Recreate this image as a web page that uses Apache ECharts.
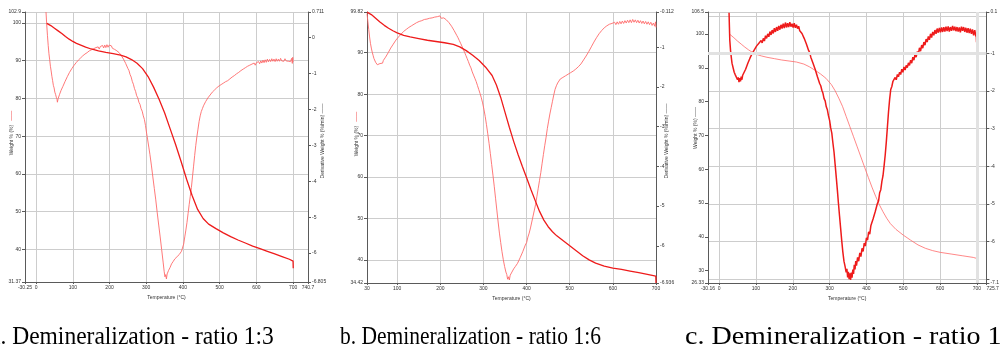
<!DOCTYPE html>
<html>
<head>
<meta charset="utf-8">
<script src="https://cdn.jsdelivr.net/npm/echarts@6/dist/echarts.min.js"></script>
<style>
html, body { margin: 0; padding: 0; background: #fff; }
#chart { width: 1002px; height: 351px; }
</style>
</head>
<body>
<div id="chart"></div>
<script>
// ---------------------------------------------------------------------------
// data read off the three TGA / DTG plots  [temperature °C, value]
// ---------------------------------------------------------------------------
const captions = [
  'a. Demineralization - ratio 1:3',
  'b. Demineralization - ratio 1:6',
  'c. Demineralization - ratio 1:9'
];

// axis extents as printed on the plots
const xRangeA = [-30.25, 740.7], wRangeA = [31.37, 102.9], dRangeA = [-6.805, 0.711];
const xRangeB = [30, 700],       wRangeB = [34.42, 99.82], dRangeB = [-6.936, -0.112];
const xRangeC = [-30.16, 725.7], wRangeC = [26.33, 106.5], dRangeC = [-7.1, 0.1];

// a. weight %
const tgaA = [[29,99.9],[40,99.3],[50,98.6],[60,97.9],[70,97.2],[80,96.4],[90,95.7],[100,95.1],[110,94.6],[120,94.2],[135,93.6],[150,93.1],[170,92.6],[190,92.2],[210,91.9],[230,91.5],[245,91.0],[260,90.3],[275,89.3],[290,87.9],[305,85.8],[320,83.0],[335,79.8],[350,76.2],[365,72.0],[380,67.8],[395,63.3],[410,58.6],[425,54.3],[440,50.6],[455,48.2],[470,46.7],[490,45.5],[510,44.4],[530,43.4],[550,42.5],[570,41.7],[590,40.9],[610,40.2],[630,39.5],[650,38.8],[670,38.1],[690,37.4],[700,36.9],[700.5,35.0]];
// a. derivative weight %/min
const dtgA = [[27,0.71],[29,0.35],[31,0.05],[33,-0.22],[35,-0.45],[37,-0.62],[39,-0.80],[41,-0.93],[43,-1.08],[45,-1.20],[47,-1.33],[49,-1.40],[51,-1.52],[53,-1.58],[55,-1.66],[57,-1.72],[58,-1.80],[60,-1.70],[62,-1.66],[64,-1.58],[66,-1.55],[68,-1.47],[70,-1.44],[73,-1.36],[76,-1.31],[79,-1.22],[82,-1.19],[85,-1.09],[88,-1.05],[91,-0.97],[94,-0.95],[97,-0.87],[100,-0.85],[103,-0.78],[106,-0.77],[109,-0.70],[112,-0.69],[115,-0.63],[118,-0.64],[121,-0.57],[124,-0.58],[127,-0.51],[130,-0.53],[133,-0.46],[136,-0.49],[139,-0.42],[142,-0.45],[145,-0.37],[148,-0.41],[151,-0.34],[154,-0.38],[157,-0.31],[160,-0.36],[163,-0.28],[166,-0.33],[169,-0.26],[172,-0.32],[175,-0.25],[178,-0.30],[181,-0.22],[184,-0.29],[187,-0.21],[190,-0.28],[193,-0.20],[196,-0.27],[199,-0.21],[202,-0.26],[205,-0.23],[208,-0.30],[211,-0.26],[214,-0.33],[217,-0.30],[220,-0.37],[223,-0.36],[226,-0.42],[229,-0.43],[232,-0.50],[235,-0.52],[238,-0.60],[241,-0.62],[244,-0.72],[247,-0.76],[250,-0.86],[253,-0.92],[256,-1.03],[259,-1.10],[262,-1.22],[265,-1.30],[268,-1.42],[271,-1.50],[274,-1.62],[277,-1.68],[280,-1.80],[283,-1.86],[286,-1.98],[289,-2.05],[292,-2.18],[295,-2.28],[298,-2.45],[301,-2.66],[304,-2.85],[307,-3.05],[310,-3.25],[314,-3.55],[318,-3.88],[322,-4.20],[326,-4.52],[330,-4.88],[334,-5.22],[338,-5.55],[342,-5.90],[346,-6.25],[349,-6.52],[351,-6.66],[353,-6.60],[355,-6.72],[357,-6.58],[359,-6.62],[361,-6.48],[363,-6.52],[365,-6.40],[367,-6.44],[369,-6.30],[371,-6.34],[373,-6.24],[375,-6.28],[378,-6.16],[381,-6.20],[384,-6.10],[387,-6.15],[390,-6.04],[393,-6.08],[396,-5.95],[399,-5.92],[402,-5.75],[405,-5.55],[408,-5.36],[411,-5.15],[414,-4.90],[417,-4.65],[420,-4.42],[423,-4.18],[426,-3.88],[429,-3.58],[432,-3.28],[435,-3.00],[438,-2.76],[441,-2.55],[444,-2.34],[447,-2.18],[450,-2.06],[453,-1.98],[456,-1.90],[459,-1.86],[462,-1.78],[465,-1.76],[468,-1.68],[471,-1.66],[474,-1.60],[477,-1.63],[480,-1.52],[483,-1.55],[486,-1.46],[489,-1.50],[492,-1.40],[495,-1.44],[498,-1.35],[501,-1.39],[504,-1.31],[507,-1.34],[510,-1.27],[513,-1.32],[516,-1.23],[519,-1.28],[522,-1.20],[525,-1.24],[528,-1.15],[531,-1.19],[534,-1.10],[537,-1.15],[540,-1.06],[543,-1.10],[546,-1.01],[549,-1.05],[552,-0.97],[555,-1.00],[558,-0.92],[561,-0.96],[564,-0.88],[567,-0.92],[570,-0.84],[573,-0.89],[576,-0.80],[579,-0.85],[582,-0.77],[585,-0.82],[588,-0.74],[591,-0.79],[594,-0.71],[597,-0.77],[600,-0.70],[603,-0.75],[606,-0.67],[609,-0.73],[612,-0.65],[615,-0.71],[618,-0.63],[621,-0.70],[624,-0.62],[627,-0.69],[630,-0.60],[633,-0.68],[636,-0.61],[639,-0.67],[642,-0.59],[645,-0.66],[648,-0.60],[651,-0.67],[654,-0.59],[657,-0.66],[660,-0.60],[663,-0.66],[666,-0.58],[669,-0.65],[672,-0.60],[675,-0.66],[678,-0.59],[681,-0.65],[684,-0.60],[687,-0.66],[690,-0.61],[693,-0.67],[696,-0.58],[698,-0.72],[699,-0.55],[700,-0.68]];

// b. weight %
const tgaB = [[30,99.8],[40,99.2],[50,98.3],[60,97.4],[70,96.6],[80,95.9],[90,95.3],[100,94.8],[115,94.2],[130,93.8],[150,93.4],[170,93.0],[190,92.7],[210,92.4],[230,92.0],[245,91.4],[260,90.5],[275,89.4],[290,88.1],[305,86.5],[320,84.5],[330,82.2],[340,79.2],[350,75.6],[360,72.0],[370,68.6],[380,65.5],[390,62.6],[400,59.8],[410,57.0],[420,54.3],[430,51.7],[440,49.6],[450,48.0],[460,46.8],[470,45.8],[485,44.6],[500,43.4],[515,42.2],[530,41.0],[545,40.0],[560,39.2],[580,38.5],[600,38.0],[620,37.7],[640,37.3],[660,36.9],[680,36.5],[699.5,36.1],[700,34.42]];
// b. derivative weight %/min
const dtgB = [[30,-0.15],[32,-0.35],[34,-0.55],[36,-0.74],[38,-0.90],[40,-1.02],[42,-1.12],[44,-1.20],[46,-1.28],[48,-1.33],[50,-1.38],[52,-1.40],[54,-1.44],[56,-1.40],[58,-1.45],[60,-1.41],[62,-1.44],[64,-1.38],[66,-1.40],[68,-1.33],[70,-1.32],[73,-1.25],[76,-1.22],[79,-1.14],[82,-1.10],[85,-1.02],[88,-1.00],[91,-0.92],[94,-0.90],[97,-0.82],[100,-0.81],[103,-0.74],[106,-0.73],[109,-0.67],[112,-0.67],[115,-0.60],[118,-0.62],[121,-0.55],[124,-0.57],[127,-0.50],[130,-0.53],[133,-0.46],[136,-0.49],[139,-0.42],[142,-0.45],[145,-0.38],[148,-0.42],[151,-0.35],[154,-0.39],[157,-0.33],[160,-0.37],[163,-0.30],[166,-0.35],[169,-0.29],[172,-0.33],[175,-0.27],[178,-0.32],[181,-0.26],[184,-0.30],[187,-0.24],[190,-0.29],[193,-0.23],[196,-0.28],[199,-0.21],[202,-0.27],[205,-0.22],[208,-0.26],[211,-0.25],[214,-0.31],[217,-0.32],[220,-0.38],[223,-0.40],[226,-0.47],[229,-0.52],[232,-0.58],[235,-0.63],[238,-0.70],[241,-0.76],[244,-0.83],[247,-0.90],[250,-0.97],[253,-1.05],[256,-1.12],[259,-1.20],[262,-1.28],[265,-1.36],[268,-1.45],[271,-1.52],[274,-1.62],[277,-1.70],[280,-1.78],[283,-1.86],[286,-1.96],[289,-2.06],[292,-2.16],[295,-2.27],[298,-2.40],[301,-2.56],[304,-2.74],[307,-2.95],[310,-3.18],[313,-3.42],[316,-3.68],[319,-3.95],[322,-4.22],[325,-4.50],[328,-4.80],[331,-5.10],[334,-5.40],[337,-5.68],[340,-5.92],[343,-6.15],[346,-6.35],[349,-6.52],[352,-6.66],[354,-6.72],[356,-6.84],[358,-6.78],[360,-6.86],[362,-6.74],[364,-6.78],[366,-6.66],[368,-6.70],[370,-6.58],[372,-6.62],[374,-6.52],[376,-6.55],[379,-6.44],[382,-6.42],[385,-6.30],[388,-6.28],[391,-6.15],[394,-6.10],[397,-5.98],[400,-5.92],[403,-5.78],[406,-5.68],[409,-5.55],[412,-5.40],[415,-5.25],[418,-5.10],[421,-4.95],[424,-4.75],[427,-4.55],[430,-4.35],[433,-4.15],[436,-3.92],[439,-3.70],[442,-3.48],[445,-3.28],[448,-3.05],[451,-2.86],[454,-2.68],[457,-2.52],[460,-2.36],[463,-2.20],[466,-2.06],[469,-1.97],[472,-1.90],[475,-1.86],[478,-1.80],[481,-1.82],[484,-1.76],[487,-1.78],[490,-1.72],[493,-1.75],[496,-1.68],[499,-1.71],[502,-1.64],[505,-1.67],[508,-1.60],[511,-1.62],[514,-1.55],[517,-1.57],[520,-1.49],[523,-1.50],[526,-1.42],[529,-1.41],[532,-1.32],[535,-1.31],[538,-1.22],[541,-1.20],[544,-1.11],[547,-1.08],[550,-0.99],[553,-0.96],[556,-0.87],[559,-0.85],[562,-0.76],[565,-0.75],[568,-0.66],[571,-0.68],[574,-0.58],[577,-0.61],[580,-0.51],[583,-0.55],[586,-0.46],[589,-0.51],[592,-0.42],[595,-0.47],[598,-0.40],[601,-0.45],[604,-0.37],[607,-0.43],[610,-0.36],[613,-0.42],[616,-0.35],[619,-0.41],[622,-0.34],[625,-0.40],[628,-0.33],[631,-0.39],[634,-0.32],[637,-0.38],[640,-0.31],[643,-0.38],[646,-0.30],[649,-0.37],[652,-0.31],[655,-0.38],[658,-0.32],[661,-0.39],[664,-0.33],[667,-0.40],[670,-0.34],[673,-0.41],[676,-0.35],[679,-0.42],[682,-0.36],[685,-0.43],[688,-0.37],[691,-0.45],[694,-0.39],[697,-0.47],[699,-0.36],[700,-0.50]];

// c. weight %
const tgaC = [[28,100.0],[40,98.9],[50,97.9],[60,97.0],[70,96.1],[80,95.3],[90,94.6],[100,94.0],[115,93.5],[130,93.1],[150,92.7],[170,92.3],[190,92.0],[210,91.7],[230,91.1],[245,90.3],[260,89.3],[275,88.2],[290,86.9],[305,85.0],[315,83.2],[325,81.0],[335,78.6],[345,75.6],[355,72.6],[365,69.6],[375,66.6],[385,63.6],[395,60.6],[405,57.6],[415,54.7],[425,52.0],[435,49.5],[445,47.4],[455,45.5],[465,43.9],[480,42.2],[500,40.5],[520,39.0],[540,37.6],[560,36.6],[580,35.9],[600,35.4],[630,34.9],[660,34.4],[690,33.9],[699.5,33.6],[700,33.0]];
// c. derivative weight %/min
const dtgC = [[27,0.08],[28,-0.30],[29,-0.65],[31,-0.92],[33,-1.10],[35,-1.26],[38,-1.38],[41,-1.50],[44,-1.57],[47,-1.62],[50,-1.70],[52,-1.64],[54,-1.76],[56,-1.66],[58,-1.74],[60,-1.62],[62,-1.70],[64,-1.58],[66,-1.62],[68,-1.50],[70,-1.52],[72,-1.42],[75,-1.38],[78,-1.26],[81,-1.24],[84,-1.12],[87,-1.12],[90,-1.00],[93,-1.02],[96,-0.90],[99,-0.93],[102,-0.80],[105,-0.85],[108,-0.73],[111,-0.78],[114,-0.66],[117,-0.72],[120,-0.60],[123,-0.67],[126,-0.53],[129,-0.60],[132,-0.48],[135,-0.56],[138,-0.42],[141,-0.51],[144,-0.38],[147,-0.47],[150,-0.33],[153,-0.43],[156,-0.30],[159,-0.40],[162,-0.27],[165,-0.37],[168,-0.24],[171,-0.34],[174,-0.21],[177,-0.33],[180,-0.18],[183,-0.31],[186,-0.20],[189,-0.30],[192,-0.17],[195,-0.29],[198,-0.21],[201,-0.31],[204,-0.20],[207,-0.32],[210,-0.24],[213,-0.34],[216,-0.28],[219,-0.40],[222,-0.36],[225,-0.47],[228,-0.48],[231,-0.60],[234,-0.62],[237,-0.75],[240,-0.80],[243,-0.92],[246,-0.98],[249,-1.10],[252,-1.14],[255,-1.26],[258,-1.30],[261,-1.43],[264,-1.47],[267,-1.62],[270,-1.66],[273,-1.80],[276,-1.86],[279,-1.98],[282,-2.06],[285,-2.20],[288,-2.26],[291,-2.42],[294,-2.50],[297,-2.66],[300,-2.78],[303,-2.98],[306,-3.12],[309,-3.38],[312,-3.62],[315,-3.95],[318,-4.28],[321,-4.62],[324,-4.98],[327,-5.32],[330,-5.65],[333,-5.98],[336,-6.28],[339,-6.52],[342,-6.66],[345,-6.82],[347,-6.72],[349,-6.95],[351,-6.80],[353,-7.00],[355,-6.84],[357,-7.02],[359,-6.82],[361,-6.96],[363,-6.74],[365,-6.86],[367,-6.62],[369,-6.74],[371,-6.52],[373,-6.64],[376,-6.42],[379,-6.52],[382,-6.30],[385,-6.40],[388,-6.18],[391,-6.26],[394,-6.04],[397,-6.12],[400,-5.90],[403,-5.96],[406,-5.74],[409,-5.80],[412,-5.58],[415,-5.62],[418,-5.40],[421,-5.42],[424,-5.20],[427,-5.20],[430,-4.98],[433,-4.92],[436,-4.70],[439,-4.62],[442,-4.40],[445,-4.25],[448,-3.98],[451,-3.70],[454,-3.35],[457,-2.95],[460,-2.55],[463,-2.22],[466,-1.96],[469,-1.88],[472,-1.74],[475,-1.78],[478,-1.64],[481,-1.70],[484,-1.56],[487,-1.62],[490,-1.50],[493,-1.56],[496,-1.42],[499,-1.50],[502,-1.36],[505,-1.44],[508,-1.32],[511,-1.38],[514,-1.25],[517,-1.32],[520,-1.18],[523,-1.26],[526,-1.10],[529,-1.18],[532,-1.02],[535,-1.10],[538,-0.95],[541,-1.02],[544,-0.85],[547,-0.94],[550,-0.78],[553,-0.86],[556,-0.70],[559,-0.78],[562,-0.62],[565,-0.70],[568,-0.55],[571,-0.64],[574,-0.48],[577,-0.58],[580,-0.43],[583,-0.52],[586,-0.38],[589,-0.48],[592,-0.34],[595,-0.45],[598,-0.32],[601,-0.44],[604,-0.31],[607,-0.43],[610,-0.30],[613,-0.42],[616,-0.29],[619,-0.41],[622,-0.28],[625,-0.42],[628,-0.30],[631,-0.40],[634,-0.27],[637,-0.39],[640,-0.29],[643,-0.41],[646,-0.30],[649,-0.42],[652,-0.31],[655,-0.44],[658,-0.29],[661,-0.40],[664,-0.30],[667,-0.43],[670,-0.32],[673,-0.45],[676,-0.33],[679,-0.46],[682,-0.34],[685,-0.48],[688,-0.36],[691,-0.52],[694,-0.38],[697,-0.55],[698,-0.46],[699,-0.70],[700,0.08]];

// ---------------------------------------------------------------------------
// layout helpers
// ---------------------------------------------------------------------------
const AXIS = '#5a5a5a';
const GRID = '#cdcdcd';
const LBL = { fontSize: 5, color: '#333', fontFamily: 'Liberation Sans' };
const RED = '#ee1b1b';
const PINK = '#ff6a6a';

function fmt(v) {
  return String(Math.round(v * 1000) / 1000);
}

function xAxisFor(gi, range, split, maxAlign) {
  return {
    type: 'value', gridIndex: gi, min: range[0], max: range[1], splitNumber: split,
    name: 'Temperature (°C)', nameLocation: 'middle', nameGap: 9,
    nameTextStyle: LBL,
    axisLine: { onZero: false, lineStyle: { color: AXIS } },
    axisTick: { show: true, length: 2, lineStyle: { color: AXIS } },
    axisLabel: Object.assign({
      margin: 3, showMinLabel: true, showMaxLabel: true, hideOverlap: false,
      alignMaxLabel: maxAlign || 'center', formatter: fmt
    }, LBL),
    splitLine: { show: true, lineStyle: { color: GRID, width: 1 } }
  };
}

function yAxisFor(gi, range, split, pos, grid, hide) {
  return {
    type: 'value', gridIndex: gi, position: pos, min: range[0], max: range[1], splitNumber: split,
    axisLine: { show: true, onZero: false, lineStyle: { color: AXIS } },
    axisTick: { show: true, length: 3, lineStyle: { color: AXIS } },
    axisLabel: Object.assign({
      margin: 4, showMinLabel: true, showMaxLabel: true, hideOverlap: false,
      formatter: v => (hide && hide.indexOf(v) >= 0) ? '' : fmt(v)
    }, LBL),
    splitLine: { show: grid, lineStyle: { color: GRID, width: 1 } }
  };
}

function line(xi, yi, data, color, width, z) {
  return {
    type: 'line', xAxisIndex: xi, yAxisIndex: yi, data: data,
    symbol: 'none', showSymbol: false, clip: true, z: z || 3,
    lineStyle: { color: color, width: width }
  };
}

// rotated axis titles drawn as free text so they sit where the instrument put them
function vTitle(x, y, text, rich) {
  return {
    type: 'text', x: x, y: y, rotation: Math.PI / 2,
    style: {
      text: text, fill: '#333', fontSize: 5, fontFamily: 'Liberation Sans',
      align: 'center', verticalAlign: 'middle', rich: rich
    }
  };
}

// captions under the plots, the sub-figures were pasted at different widths
function caption(x, text, sx) {
  return {
    type: 'text', x: x, y: 337, scaleX: sx,
    style: {
      text: text, fill: '#000', fontSize: 25, fontFamily: 'Liberation Serif',
      align: 'left', verticalAlign: 'middle'
    }
  };
}

const redRich = { r: { fill: RED, fontSize: 5 }, g: { fill: '#444', fontSize: 5 } };

const chart = echarts.init(document.getElementById('chart'), null, { renderer: 'canvas' });

const option = {
  animation: false,
  backgroundColor: '#ffffff',
  grid: [
    { left: 25, top: 12, width: 283, height: 270 },
    { left: 367, top: 12, width: 289, height: 271 },
    { left: 708, top: 12, width: 285, height: 271 }
  ],
  xAxis: [
    xAxisFor(0, xRangeA, 8),
    xAxisFor(1, xRangeB, 7),
    xAxisFor(2, xRangeC, 8, 'left')
  ],
  yAxis: [
    yAxisFor(0, wRangeA, 7, 'left', true),
    yAxisFor(0, dRangeA, 7, 'right', false),
    yAxisFor(1, wRangeB, 7, 'left', true),
    yAxisFor(1, dRangeB, 7, 'right', false),
    yAxisFor(2, wRangeC, 8, 'left', false),
    yAxisFor(2, dRangeC, 7, 'right', true, [-7])
  ],
  series: [
    line(0, 1, dtgA, PINK, 0.9, 3),
    line(0, 0, tgaA, RED, 1.3, 4),
    line(1, 3, dtgB, PINK, 0.9, 3),
    line(1, 2, tgaB, RED, 1.3, 4),
    line(2, 4, tgaC, PINK, 0.8, 3),
    line(2, 5, dtgC, RED, 1.5, 4),
    // highlighted cursor lines on the third plot
    {
      type: 'line', xAxisIndex: 2, yAxisIndex: 5, data: [], z: 1,
      markLine: {
        silent: true, symbol: 'none', label: { show: false },
        lineStyle: { color: '#e2e2e2', width: 3, type: 'solid' },
        data: [{ yAxis: -1 }, { xAxis: 700 }]
      }
    }
  ],
  graphic: [
    vTitle(12, 133, 'Weight % (%)   {r|——}', redRich),
    vTitle(323, 141, 'Derivative Weight % (%/min) {g|——}', redRich),
    vTitle(357, 134, 'Weight % (%)   {r|——}', redRich),
    vTitle(667, 141, 'Derivative Weight % (%/min) {g|——}', redRich),
    vTitle(696, 128, 'Weight % (%) {g|——}', redRich),
    caption(-10, captions[0], 0.94),
    caption(340, captions[1], 0.86),
    caption(685, captions[2], 1.12)
  ]
};

chart.setOption(option);
</script>
</body>
</html>
